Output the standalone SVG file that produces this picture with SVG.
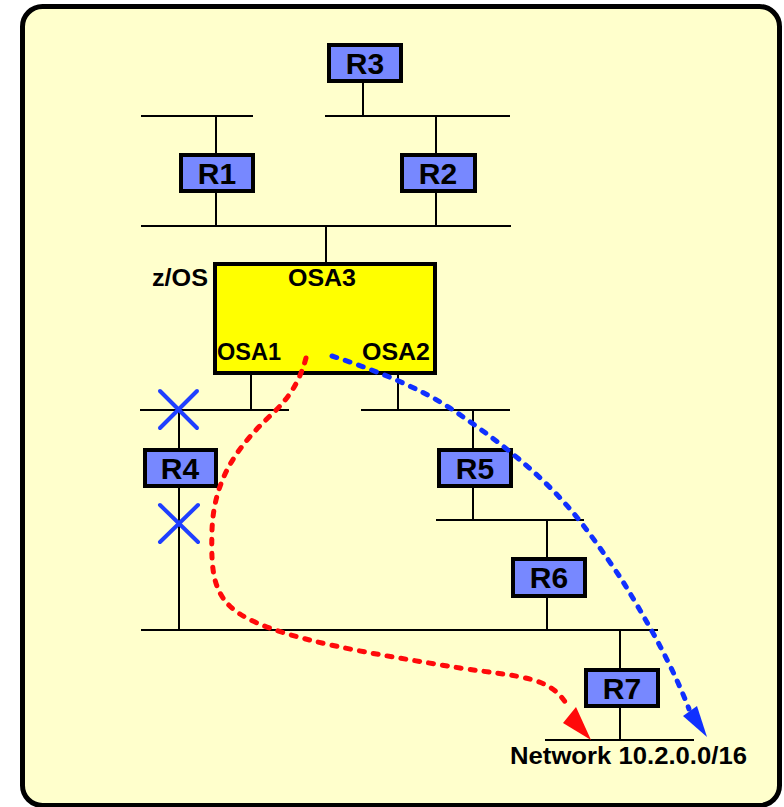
<svg xmlns="http://www.w3.org/2000/svg" width="784" height="807" viewBox="0 0 784 807">
<style>
.frame{fill:#FFFFCC;stroke:#000;stroke-width:5}
.rt{fill:#7788FF;stroke:#000;stroke-width:4}
.zos{fill:#FFFF00;stroke:#000;stroke-width:4}
.ln{stroke:#000;stroke-width:2;fill:none}
.x{stroke:#1F3FFF;stroke-width:4;stroke-linecap:round}
.lbl{font-family:"Liberation Sans",Arial,sans-serif;font-weight:bold;font-size:30px;fill:#000;text-anchor:middle}
.t{font-family:"Liberation Sans",Arial,sans-serif;font-weight:bold;font-size:23px;fill:#000}
.red{stroke:#FF0A0A;stroke-width:5;fill:none;stroke-dasharray:5 9;stroke-linecap:round}
.blue{stroke:#1030FF;stroke-width:5;fill:none;stroke-dasharray:5 9;stroke-linecap:round}
</style>
<rect width="784" height="807" fill="#FFFFFF"/>
<rect class="frame" x="22.5" y="6.5" width="757" height="799" rx="20"/>
<g id="lines">
<line class="ln" x1="141" y1="116" x2="253" y2="116"/>
<line class="ln" x1="325" y1="116" x2="510" y2="116"/>
<line class="ln" x1="141" y1="226" x2="511" y2="226"/>
<line class="ln" x1="363" y1="83" x2="363" y2="116"/>
<line class="ln" x1="216" y1="116" x2="216" y2="226"/>
<line class="ln" x1="436" y1="116" x2="436" y2="226"/>
<line class="ln" x1="326" y1="226" x2="326" y2="262"/>
<line class="ln" x1="251" y1="375" x2="251" y2="410"/>
<line class="ln" x1="398" y1="375" x2="398" y2="410"/>
<line class="ln" x1="140" y1="410" x2="289" y2="410"/>
<line class="ln" x1="361" y1="410" x2="510" y2="410"/>
<line class="ln" x1="179" y1="410" x2="179" y2="630"/>
<line class="ln" x1="473" y1="410" x2="473" y2="520"/>
<line class="ln" x1="436" y1="520" x2="584" y2="520"/>
<line class="ln" x1="547" y1="520" x2="547" y2="630"/>
<line class="ln" x1="141" y1="630" x2="658" y2="630"/>
<line class="ln" x1="511" y1="630" x2="547" y2="630" stroke-width="3"/>
<line class="ln" x1="620" y1="630" x2="620" y2="740"/>
<line class="ln" x1="545" y1="740" x2="694" y2="740"/>
</g>
<g id="zos">
<rect class="zos" x="215" y="264" width="220" height="109"/>
<text class="t" x="208" y="286" text-anchor="end" textLength="56" lengthAdjust="spacingAndGlyphs">z/OS</text>
<text class="t" x="288" y="286" textLength="68" lengthAdjust="spacingAndGlyphs">OSA3</text>
<text class="t" x="217" y="360" textLength="64" lengthAdjust="spacingAndGlyphs">OSA1</text>
<text class="t" x="362" y="360" textLength="68" lengthAdjust="spacingAndGlyphs">OSA2</text>
</g>
<g id="R3"><rect class="rt" x="329" y="45" width="72" height="36"/><text class="lbl" x="365" y="74">R3</text></g>
<g id="R1"><rect class="rt" x="181" y="155" width="72" height="36"/><text class="lbl" x="217" y="184">R1</text></g>
<g id="R2"><rect class="rt" x="402" y="155" width="73" height="36"/><text class="lbl" x="438" y="184">R2</text></g>
<g id="R4"><rect class="rt" x="145" y="450" width="71" height="36"/><text class="lbl" x="180" y="479">R4</text></g>
<g id="R5"><rect class="rt" x="439" y="450" width="72" height="36"/><text class="lbl" x="475" y="479">R5</text></g>
<g id="R6"><rect class="rt" x="513" y="559" width="72" height="37"/><text class="lbl" x="549" y="588">R6</text></g>
<g id="R7"><rect class="rt" x="586" y="670" width="72" height="36"/><text class="lbl" x="622" y="699">R7</text></g>
<g id="failures">
<line class="x" x1="160" y1="391" x2="197" y2="428"/>
<line class="x" x1="197" y1="391" x2="160" y2="428"/>
<line class="x" x1="160" y1="505" x2="198" y2="542"/>
<line class="x" x1="198" y1="505" x2="160" y2="542"/>
</g>
<g id="connectors">
<path class="red" d="M306,358 C299,384 287,400 272,414 C238,446 214,478 212,530 C211,570 212,596 240,614 C280,640 380,655 460,668 C520,677 552,676 568,707"/>
<polygon points="591,740 563,723 576,707" fill="#FF0A0A"/>
<path class="blue" d="M332,356 C375,370 420,388 453,410 C490,435 530,465 562,500 C585,525 605,555 622,580 C645,618 670,660 689,709"/>
<polygon points="707,737 683,716 697,706" fill="#1030FF"/>
</g>
<text class="t" x="510" y="764" textLength="237" lengthAdjust="spacingAndGlyphs">Network 10.2.0.0/16</text>
</svg>
